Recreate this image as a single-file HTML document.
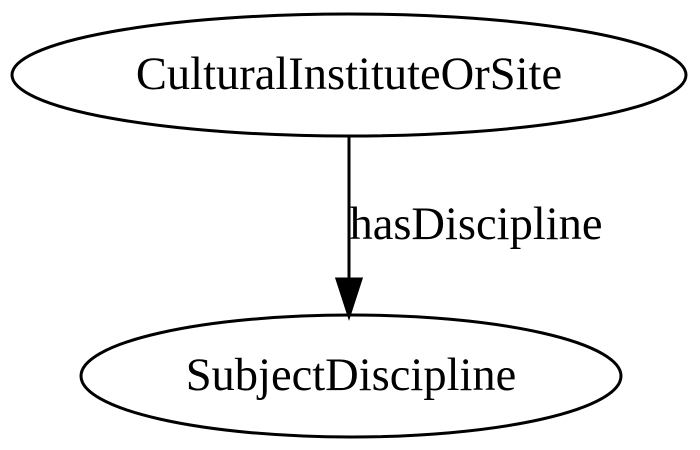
<!DOCTYPE html>
<html><head><style>html,body{margin:0;padding:0;background:#fff;width:700px;height:450px;overflow:hidden}</style></head>
<body>
<svg width="700" height="450" viewBox="0 0 700 450" xmlns="http://www.w3.org/2000/svg">
<ellipse cx="349" cy="75" rx="337" ry="61" fill="none" stroke="#000" stroke-width="3"/>
<text x="349" y="89" text-anchor="middle" font-family="Liberation Serif, serif" font-size="46.5">CulturalInstituteOrSite</text>
<line x1="349" y1="137" x2="349" y2="280" stroke="#000" stroke-width="3"/>
<polygon points="337,279 361,279 349,316" fill="#000" stroke="#000" stroke-width="3"/>
<text x="476" y="239" text-anchor="middle" font-family="Liberation Serif, serif" font-size="46.5">hasDiscipline</text>
<ellipse cx="351" cy="376" rx="270" ry="61" fill="none" stroke="#000" stroke-width="3"/>
<text x="351" y="390" text-anchor="middle" font-family="Liberation Serif, serif" font-size="46.5">SubjectDiscipline</text>
</svg>
</body></html>
